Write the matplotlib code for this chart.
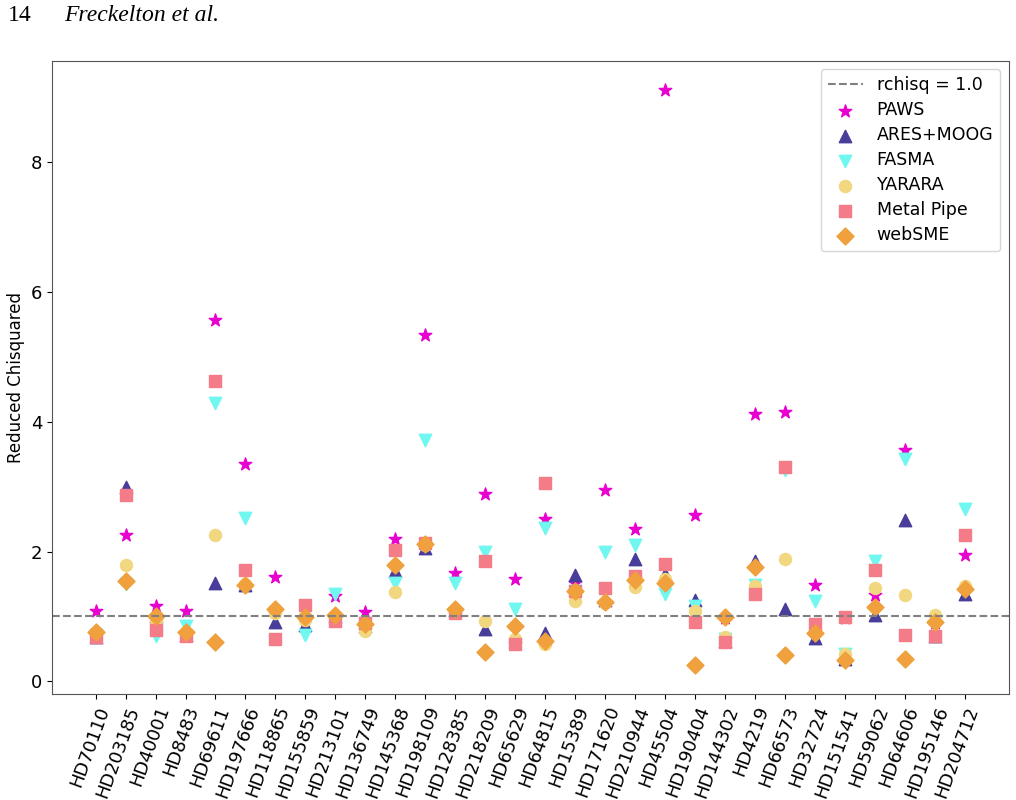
import matplotlib
matplotlib.use("Agg")
import matplotlib.pyplot as plt

stars = ["HD70110", "HD203185", "HD40001", "HD8483", "HD69611", "HD197666",
         "HD118865", "HD155859", "HD213101", "HD136749", "HD145368", "HD198109",
         "HD128385", "HD218209", "HD65629", "HD64815", "HD15389", "HD171620",
         "HD210944", "HD45504", "HD190404", "HD144302", "HD4219", "HD66573",
         "HD32724", "HD151541", "HD59062", "HD64606", "HD195146", "HD204712"]

# reduced chi-squared per pipeline
paws = [1.09, 2.26, 1.16, 1.09, 5.56, 3.35, 1.61, 0.95, 1.32, 1.07, 2.20, 5.33, 1.67, 2.89, 1.58,
        2.50, 1.52, 2.95, 2.34, 9.11, 2.56, 0.97, 4.11, 4.14, 1.49, 0.98, 1.33, 3.56, 0.90, 1.95]
ares = [0.68, 2.99, 1.00, 0.72, 1.52, 1.48, 0.92, 0.87, 1.00, 0.85, 1.70, 2.06, 1.10, 0.80, 0.70,
        0.74, 1.64, 1.25, 1.88, 1.65, 1.26, 0.62, 1.86, 1.12, 0.67, 0.35, 1.03, 2.49, 0.70, 1.34]
fasma = [0.72, 1.50, 0.70, 0.85, 4.28, 2.51, 1.05, 0.72, 1.34, 0.90, 1.52, 3.72, 1.52, 2.00, 1.11,
         2.36, 1.40, 2.00, 2.10, 1.34, 1.16, 0.66, 1.49, 3.25, 1.24, 0.43, 1.86, 3.43, 0.85, 2.66]
yarara = [0.73, 1.80, 0.95, 0.75, 2.26, 1.50, 1.05, 0.95, 1.00, 0.77, 1.38, 2.10, 1.10, 0.93, 0.66,
          0.58, 1.24, 1.20, 1.46, 1.57, 1.08, 0.68, 1.47, 1.89, 0.75, 0.43, 1.44, 1.33, 1.03, 1.47]
metal = [0.68, 2.87, 0.79, 0.70, 4.63, 1.71, 0.66, 1.17, 0.93, 0.90, 2.02, 2.13, 1.05, 1.86, 0.58,
         3.06, 1.39, 1.44, 1.62, 1.81, 0.91, 0.61, 1.35, 3.30, 0.89, 0.99, 1.72, 0.71, 0.70, 2.25]
websme = [0.76, 1.54, 1.00, 0.76, 0.60, 1.48, 1.11, 0.99, 1.02, 0.88, 1.79, 2.11, 1.12, 0.46, 0.85,
          0.62, 1.39, 1.22, 1.56, 1.51, 0.25, 0.99, 1.76, 0.40, 0.75, 0.33, 1.14, 0.34, 0.91, 1.43]

fig = plt.figure(figsize=(10.16, 8), dpi=100)
ax = fig.add_axes([0.0512, 0.1325, 0.9418, 0.7915])

ax.axhline(1.0, color="gray", ls="--", lw=1.5, label="rchisq = 1.0")
ax.scatter(stars, paws, marker="*", s=90, color="#e800d0", label="PAWS")
ax.scatter(stars, ares, marker="^", s=80, color="#483d9b", label="ARES+MOOG")
ax.scatter(stars, fasma, marker="v", s=80, color="#6ff7f0", label="FASMA")
ax.scatter(stars, yarara, marker="o", s=75, color="#f1d77f", label="YARARA")
ax.scatter(stars, metal, marker="s", s=75, color="#f47c88", label="Metal Pipe")
ax.scatter(stars, websme, marker="D", s=75, color="#f0a03c", label="webSME")

ax.set_ylabel("Reduced Chisquared", fontsize=12)
ax.tick_params(axis="both", labelsize=13)
plt.setp(ax.get_xticklabels(), rotation=70, ha="right", rotation_mode="anchor")
for s in ax.spines.values():
    s.set_color("#555555")
ax.legend(loc="upper right", fontsize=12.5, labelspacing=0.4)

fig.text(0.008, 0.981, "14", family="Liberation Serif", fontsize=17, va="center")
fig.text(0.063, 0.981, "Freckelton et al.", family="Liberation Serif", style="italic",
         fontsize=17, va="center")

fig.savefig("out.png", dpi=100)
